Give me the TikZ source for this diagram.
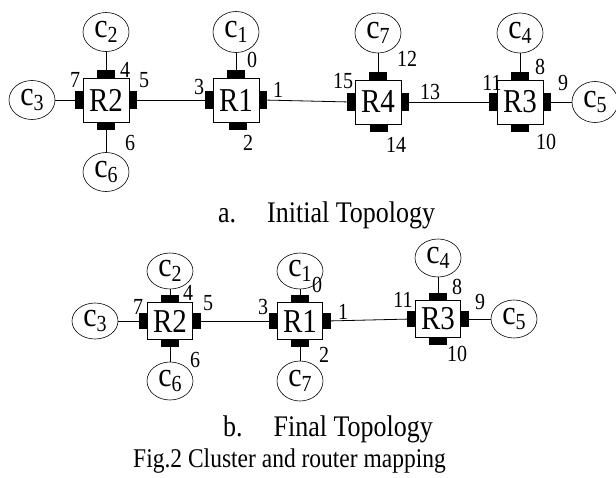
\documentclass[tikz,border=0pt]{standalone}
\usepackage{fontspec}
\setmainfont{Liberation Serif}
\usepackage{graphicx}
\usetikzlibrary{shapes.geometric,positioning}

\newcommand{\tallish}[1]{\scalebox{1}[1.15]{#1}}
\newcommand{\clu}[1]{\tallish{c\raisebox{-4pt}{\fontsize{20}{20}\selectfont #1}}}

\begin{document}
\begin{tikzpicture}[x=1pt,y=-1pt,
  router/.style={draw, line width=0.8pt, minimum width=46pt, minimum height=44pt, inner sep=0pt, font=\fontsize{29}{30}\selectfont},
  routerb/.style={router, minimum width=45pt, minimum height=37pt},
  cluster/.style={draw, ellipse, line width=0.6pt, minimum width=46pt, minimum height=39pt, inner sep=0pt, font=\fontsize{30}{30}\selectfont},
  clusterb/.style={cluster, minimum height=36pt},
  porth/.style={fill=black, minimum width=18pt, minimum height=8pt, inner sep=0pt, outer sep=0pt},
  portv/.style={porth, minimum width=8pt, minimum height=18pt},
  porthb/.style={porth, minimum height=7pt},
  portvb/.style={portv, minimum height=16pt},
  num/.style={font=\fontsize{20}{20}\selectfont, inner sep=0pt},
  caption/.style={font=\fontsize{26}{28}\selectfont, inner sep=0pt, anchor=base west},
  link/.style={line width=0.8pt},
]
\useasboundingbox (0,0) rectangle (616,477);

% a. initial topology
\node[router] (ar2) at (106,100) {\tallish{R2}};
\node[router] (ar1) at (236,100) {\tallish{R1}};
\node[router] (ar4) at (378,102) {\tallish{R4}};
\node[router] (ar3) at (520,102) {\tallish{R3}};

\node[porth, above=0pt of ar2] (ap4) {};
\node[portv, right=0pt of ar2] (ap5) {};
\node[porth, below=0pt of ar2] (ap6) {};
\node[portv, left=0pt of ar2] (ap7) {};
\node[porth, above=0pt of ar1] (ap0) {};
\node[portv, right=0pt of ar1] (ap1) {};
\node[porth, below=0pt of ar1, xshift=2pt] (ap2) {};
\node[portv, left=0pt of ar1] (ap3) {};
\node[porth, above=0pt of ar4] (ap12) {};
\node[portv, right=0pt of ar4] (ap13) {};
\node[porth, below=0pt of ar4, xshift=1pt] (ap14) {};
\node[portv, left=0pt of ar4] (ap15) {};
\node[porth, above=0pt of ar3] (ap8) {};
\node[portv, right=0pt of ar3] (ap9) {};
\node[porth, below=0pt of ar3] (ap10) {};
\node[portv, left=0pt of ar3] (ap11) {};

\node[cluster] (ac2) at (106,32) {\clu{2}};
\node[cluster] (ac3) at (32,100) {\clu{3}};
\node[cluster] (ac6) at (106,172) {\clu{6}};
\node[cluster, minimum height=41pt] (ac1) at (236,32) {\clu{1}};
\node[cluster, minimum height=40pt] (ac7) at (378,33) {\clu{7}};
\node[cluster, minimum height=40pt] (ac4) at (520,33) {\clu{4}};
\node[cluster, minimum height=41pt] (ac5) at (595,102) {\clu{5}};

\draw[link] (ac2) -- (ap4);
\draw[link] (ac3) -- (ap7);
\draw[link] (ac6) -- (ap6);
\draw[link] (ap5) -- (ap3);
\draw[link] (ac1) -- (ap0);
\draw[link] (ap1) -- (ap15);
\draw[link] (ac7) -- (ap12);
\draw[link] (ap13) -- (ap11);
\draw[link] (ac4) -- (ap8);
\draw[link] (ap9) -- (ac5);

\node[num] (an7) at (75,80) {\tallish{7}};
\node[num] (an4) at (125,70) {\tallish{4}};
\node[num] (an5) at (144,80) {\tallish{5}};
\node[num] (an6) at (130,143) {\tallish{6}};
\node[num] (an0) at (252,60) {\tallish{0}};
\node[num] (an3) at (199,87) {\tallish{3}};
\node[num] (an1) at (278,90) {\tallish{1}};
\node[num] (an2) at (248,143) {\tallish{2}};
\node[num] (an15) at (343,81) {\tallish{15}};
\node[num] (an12) at (407,59) {\tallish{12}};
\node[num] (an13) at (430,92) {\tallish{13}};
\node[num] (an14) at (396,145) {\tallish{14}};
\node[num] (an11) at (492,83) {\tallish{11}};
\node[num] (an8) at (540,67) {\tallish{8}};
\node[num] (an9) at (563,83) {\tallish{9}};
\node[num] (an10) at (546,142) {\tallish{10}};

\node[caption] (capa) at (218,222) {\tallish{a.\hspace{31pt}Initial Topology}};

% b. final topology
\node[routerb] (br2) at (170,321) {\tallish{R2}};
\node[routerb] (br1) at (300,321) {\tallish{R1}};
\node[routerb] (br3) at (438,319) {\tallish{R3}};

\node[porthb, above=0pt of br2] (bp4) {};
\node[portvb, right=0pt of br2] (bp5) {};
\node[porthb, below=0pt of br2] (bp6) {};
\node[portvb, left=0pt of br2] (bp7) {};
\node[porthb, above=0pt of br1] (bp0) {};
\node[portvb, right=0pt of br1] (bp1) {};
\node[porthb, below=0pt of br1] (bp2) {};
\node[portvb, left=0pt of br1] (bp3) {};
\node[porthb, above=0pt of br3] (bp8) {};
\node[portvb, right=0pt of br3] (bp9) {};
\node[porthb, below=0pt of br3] (bp10) {};
\node[portvb, left=0pt of br3] (bp11) {};

\node[clusterb] (bc2) at (170,271) {\clu{2}};
\node[clusterb] (bc3) at (95,321) {\clu{3}};
\node[clusterb, minimum height=38pt] (bc6) at (170,381) {\clu{6}};
\node[clusterb] (bc1) at (300,271) {\clu{1}};
\node[clusterb, minimum height=40pt] (bc7) at (300,381) {\clu{7}};
\node[clusterb, minimum height=38pt] (bc4) at (438,258) {\clu{4}};
\node[clusterb, minimum height=38pt] (bc5) at (514,319) {\clu{5}};

\draw[link] (bc2) -- (bp4);
\draw[link] (bc3) -- (bp7);
\draw[link] (bc6) -- (bp6);
\draw[link] (bp5) -- (bp3);
\draw[link] (bc1) -- (bp0);
\draw[link] (bc7) -- (bp2);
\draw[link] (bp1) -- (bp11);
\draw[link] (bc4) -- (bp8);
\draw[link] (bp9) -- (bc5);

\node[num] (bn7) at (138,307) {\tallish{7}};
\node[num] (bn4) at (188,293) {\tallish{4}};
\node[num] (bn5) at (208,303) {\tallish{5}};
\node[num] (bn6) at (195,360) {\tallish{6}};
\node[num] (bn3) at (263,307) {\tallish{3}};
\node[num] (bn0) at (317,285) {\tallish{0}};
\node[num] (bn1) at (343,312) {\tallish{1}};
\node[num] (bn2) at (324,355) {\tallish{2}};
\node[num] (bn11) at (403,300) {\tallish{11}};
\node[num] (bn8) at (457,287) {\tallish{8}};
\node[num] (bn9) at (480,302) {\tallish{9}};
\node[num] (bn10) at (457,354) {\tallish{10}};

\node[caption] (capb) at (223,436) {\tallish{b.\hspace{31pt}Final Topology}};
\node[caption, font=\fontsize{23.5}{26}\selectfont] (capfig) at (133,467) {\tallish{Fig.2 Cluster and router mapping}};
\end{tikzpicture}
\end{document}
